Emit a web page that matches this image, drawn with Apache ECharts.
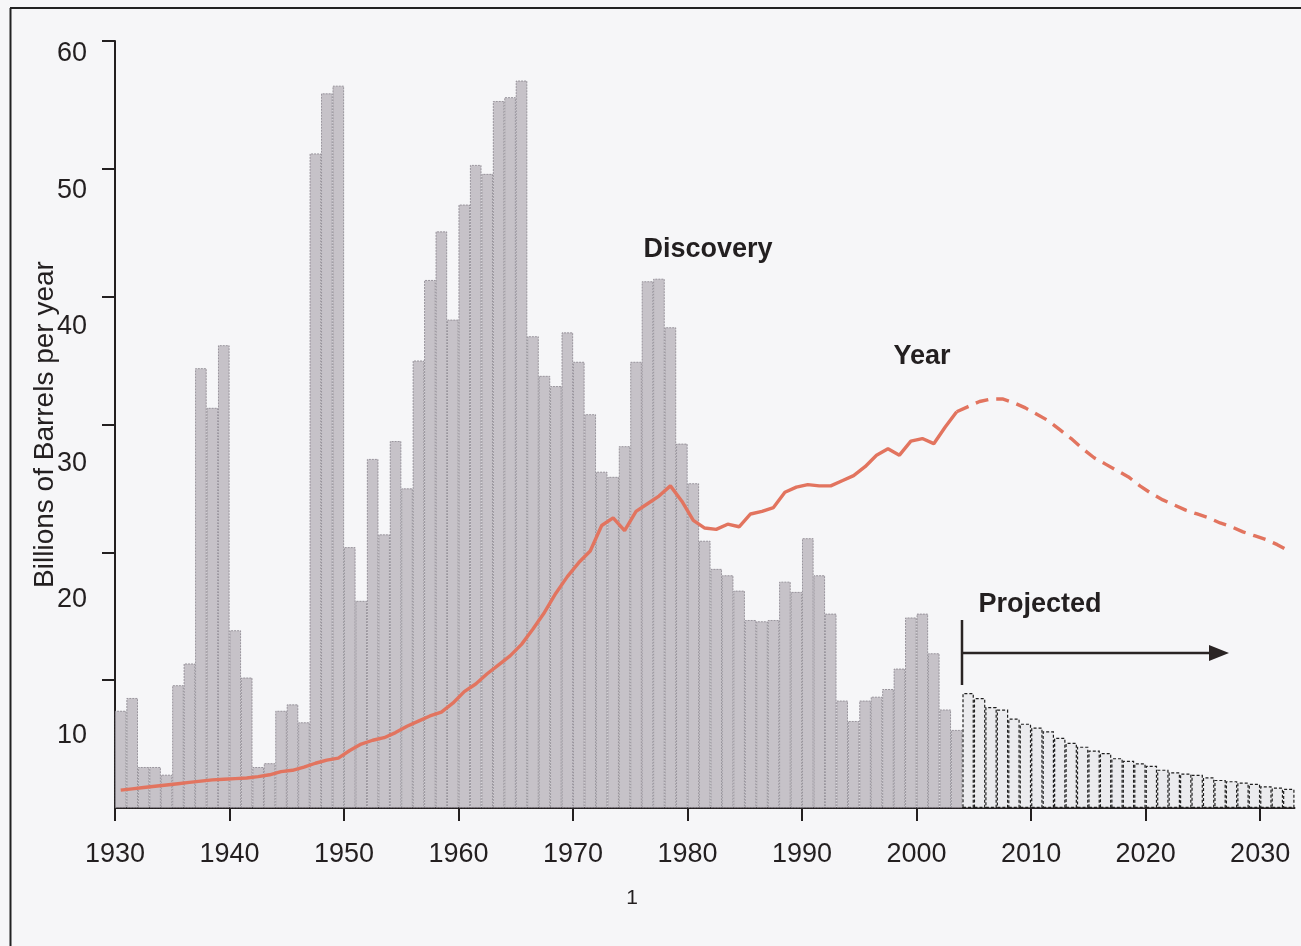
<!DOCTYPE html>
<html>
<head>
<meta charset="utf-8">
<script src="https://cdn.jsdelivr.net/npm/echarts@6.0.0/dist/echarts.min.js"></script>
<style>
  html, body { margin: 0; padding: 0; background: #f6f6f8; }
  #chart { width: 1301px; height: 946px; }
</style>
</head>
<body>
<div id="chart"></div>
<script>
// ---- data ----
const firstYear = 1930;          // first discovery bar
const projStartYear = 2004;      // first projected bar
const xTickYears = [1930, 1940, 1950, 1960, 1970, 1980, 1990, 2000, 2010, 2020, 2030];
const yTickValues = [10, 20, 30, 40, 50, 60];

// Discovery, billions of barrels per year, 1930-2003
const discovery = [
  7.6, 8.6, 3.2, 3.2, 2.6, 9.6, 11.3, 34.4, 31.3, 36.2,
  13.9, 10.2, 3.2, 3.5, 7.6, 8.1, 6.7, 51.2, 55.9, 56.5,
  20.4, 16.2, 27.3, 21.4, 28.7, 25.0, 35.0, 41.3, 45.1, 38.2,
  47.2, 50.3, 49.6, 55.3, 55.6, 56.9, 36.9, 33.8, 33.0, 37.2,
  34.9, 30.8, 26.3, 25.9, 28.3, 34.9, 41.2, 41.4, 37.6, 28.5,
  25.4, 20.9, 18.7, 18.2, 17.0, 14.7, 14.6, 14.7, 17.7, 16.9,
  21.1, 18.2, 15.2, 8.4, 6.8, 8.4, 8.7, 9.3, 10.9, 14.9,
  15.2, 12.1, 7.7, 6.1
];
// Projected discovery, 2004-2032
const discoveryProjected = [
  9.0, 8.6, 7.9, 7.7, 7.0, 6.6, 6.3, 6.0, 5.5, 5.1,
  4.8, 4.5, 4.3, 3.9, 3.7, 3.5, 3.3, 3.0, 2.8, 2.7,
  2.6, 2.4, 2.2, 2.1, 2.0, 1.9, 1.7, 1.6, 1.5
];
// Production per year, 1930-2003
const production = [
  1.4, 1.5, 1.6, 1.7, 1.8, 1.9, 2.0, 2.1, 2.2, 2.25,
  2.3, 2.35, 2.45, 2.6, 2.85, 2.95, 3.2, 3.5, 3.75, 3.9,
  4.5, 5.0, 5.3, 5.5, 5.9, 6.4, 6.8, 7.2, 7.5, 8.2,
  9.1, 9.7, 10.5, 11.2, 11.9, 12.8, 14.0, 15.3, 16.8, 18.1,
  19.2, 20.1, 22.1, 22.7, 21.7, 23.2, 23.8, 24.4, 25.2, 24.0,
  22.5, 21.9, 21.8, 22.2, 22.0, 23.0, 23.2, 23.5, 24.7, 25.1,
  25.3, 25.2, 25.2, 25.6, 26.0, 26.7, 27.6, 28.1, 27.6, 28.7,
  28.9, 28.5, 29.8, 31.0
];
// Projected production, 2004-2032
const productionProjected = [
  31.4, 31.8, 32.0, 32.0, 31.7, 31.3, 30.8, 30.3, 29.6, 28.9,
  28.1, 27.4, 26.9, 26.4, 25.9, 25.2, 24.6, 24.1, 23.7, 23.3,
  23.0, 22.7, 22.3, 22.0, 21.6, 21.3, 21.0, 20.6, 20.1
];

// ---- build series data (each year's mark sits in the middle of its year) ----
const toPairs = (arr, start) => arr.map((v, i) => [start + i + 0.5, v]);
const discData = toPairs(discovery, firstYear);
const discProjData = toPairs(discoveryProjected, projStartYear);
const prodData = toPairs(production, firstYear);
const prodProjData = [prodData[prodData.length - 1]].concat(toPairs(productionProjected, projStartYear));

const ink = '#231f20';
const font = '"Liberation Sans", Arial, Helvetica, sans-serif';

const chart = echarts.init(document.getElementById('chart'), null, { renderer: 'canvas' });
chart.setOption({
  backgroundColor: '#f6f6f8',
  animation: false,
  textStyle: { fontFamily: font },
  grid: { left: 115, right: 6.5, top: 41, bottom: 138, containLabel: false, outerBoundsMode: 'none' },
  xAxis: {
    type: 'value', min: 1930, max: 2033, interval: 10,
    axisLine: { lineStyle: { color: ink, width: 2 } },
    axisTick: { show: true, customValues: xTickYears, length: 13, lineStyle: { color: ink, width: 2 } },
    axisLabel: { customValues: xTickYears, fontSize: 27, color: ink, margin: 33, fontFamily: font,
                 formatter: v => String(v) },
    splitLine: { show: false }
  },
  yAxis: [
    {
      type: 'value', min: 0, max: 60, interval: 10, position: 'left',
      axisLine: { show: true, lineStyle: { color: ink, width: 2 } },
      axisTick: { show: true, customValues: yTickValues, length: 13, lineStyle: { color: ink, width: 2 } },
      axisLabel: { show: false },
      splitLine: { show: false },
      name: 'Billions of Barrels per year',
      nameLocation: 'middle', nameGap: 56,
      nameTextStyle: { fontSize: 28, color: ink, fontFamily: font }
    },
    {
      // label-only axis: the printed tick numbers sit slightly off the tick marks
      type: 'value', min: 4.72, max: 60.95, position: 'left',
      axisLine: { show: false }, axisTick: { show: false }, splitLine: { show: false },
      axisLabel: { customValues: yTickValues, fontSize: 27, color: ink, margin: 28, fontFamily: font,
                   formatter: v => String(v) }
    }
  ],
  series: [
    {
      name: 'Discovery', type: 'bar', yAxisIndex: 0,
      data: discData, barWidth: '100%', barGap: '-100%', barCategoryGap: '0%',
      itemStyle: { color: '#c6c2c8', borderColor: '#88838c', borderWidth: 0.8, borderType: [2, 1] },
      z: 2
    },
    {
      name: 'Projected', type: 'bar', yAxisIndex: 0,
      data: discProjData, barWidth: '100%', barGap: '-100%', barCategoryGap: '0%',
      itemStyle: { color: '#ebebee', borderColor: '#1e1e1e', borderWidth: 1.2, borderType: [3, 2] },
      z: 2
    },
    {
      name: 'Production', type: 'line', yAxisIndex: 0,
      data: prodData, showSymbol: false, symbol: 'none',
      lineStyle: { color: '#e2745f', width: 3.4 }, z: 5
    },
    {
      name: 'Production projected', type: 'line', yAxisIndex: 0,
      data: prodProjData, showSymbol: false, symbol: 'none',
      lineStyle: { color: '#e2745f', width: 3.4, type: [13, 8] }, z: 5
    }
  ],
  graphic: [
    { type: 'line', shape: { x1: 10.5, y1: 8, x2: 10.5, y2: 946 }, style: { stroke: '#222', lineWidth: 2 }, silent: true },
    { type: 'line', shape: { x1: 10, y1: 8, x2: 1301, y2: 8 }, style: { stroke: '#222', lineWidth: 2 }, silent: true },
    { type: 'text', x: 708, y: 250, style: { text: 'Discovery', font: 'bold 27px ' + font, fill: ink, textAlign: 'center', textVerticalAlign: 'middle' } },
    { type: 'text', x: 922, y: 357, style: { text: 'Year', font: 'bold 27px ' + font, fill: ink, textAlign: 'center', textVerticalAlign: 'middle' } },
    { type: 'text', x: 1040, y: 605, style: { text: 'Projected', font: 'bold 27px ' + font, fill: ink, textAlign: 'center', textVerticalAlign: 'middle' } },
    { type: 'text', x: 632, y: 898, style: { text: '1', font: '21px ' + font, fill: ink, textAlign: 'center', textVerticalAlign: 'middle' } },
    { type: 'line', shape: { x1: 962, y1: 620, x2: 962, y2: 685 }, style: { stroke: '#2a2424', lineWidth: 2.5 } },
    { type: 'line', shape: { x1: 962, y1: 653, x2: 1212, y2: 653 }, style: { stroke: '#2a2424', lineWidth: 2.5 } },
    { type: 'polygon', shape: { points: [[1209, 645], [1229, 653], [1209, 661]] }, style: { fill: '#2a2424' } }
  ]
});
</script>
</body>
</html>
